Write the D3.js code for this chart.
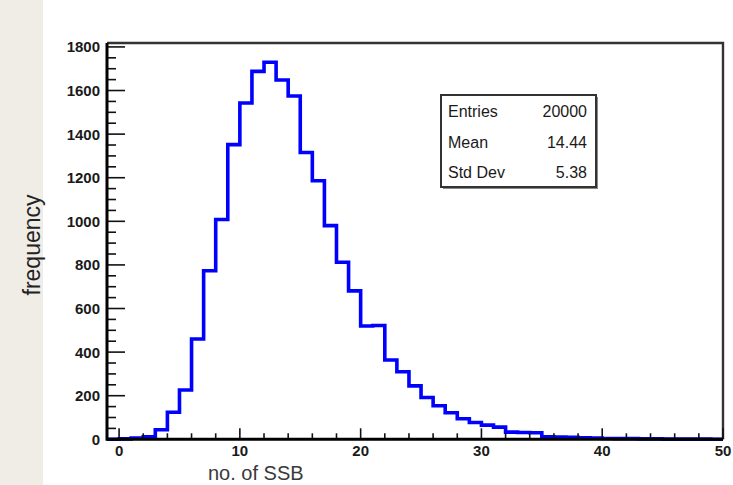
<!DOCTYPE html>
<html><head><meta charset="utf-8">
<script src="https://cdn.jsdelivr.net/npm/d3@7"></script>
<style>body{margin:0;background:#fff;} svg{display:block}</style>
</head><body><svg id="c" width="733" height="485"></svg>
<script>
// ---- data ----
const binLowEdges = [-1,0,1,2,3,4,5,6,7,8,9,10,11,12,13,14,15,16,17,18,19,20,21,22,23,24,25,26,27,28,29,30,31,32,33,34,35,36,37,38,39,40,41,42,43,44,45,46,47,48,49];
const binCounts   = [0,2,6,12,44,124,226,460,773,1008,1352,1543,1688,1730,1648,1575,1316,1186,980,812,681,520,522,364,310,245,192,154,122,94,77,65,56,33,31,30,12,10,9,7,6,4,3,3,2,2,1,1,1,1,0];
const binWidth = 1;
const xTicksMajor = [0,10,20,30,40,50];
const yTicksMajor = [0,200,400,600,800,1000,1200,1400,1600,1800];
const statsLabels = ["Entries","Mean","Std Dev"];
const statsValues = ["20000","14.44","5.38"];
const xTitle = "no. of SSB";
const yTitle = "frequency";

// ---- layout ----
const svg = d3.select("#c");
const L = 107, R = 723, T = 43, B = 439.3;
const x = d3.scaleLinear().domain([-1, 50]).range([L, R]);
const y = d3.scaleLinear().domain([0, 1818]).range([B, T]);
const FONT = "Liberation Sans, Arial, sans-serif";

svg.append("rect").attr("x",0).attr("y",0).attr("width",733).attr("height",485).attr("fill","#fff");
svg.append("rect").attr("x",0).attr("y",0).attr("width",43).attr("height",485).attr("fill","#f0ede7");

// frame top/right
svg.append("path").attr("d",`M${L},${T}H${R}V${B}`).attr("fill","none").attr("stroke","#333").attr("stroke-width",2.4);

// histogram
const pts = binLowEdges.map((e,i)=>[e, binCounts[i]]);
pts.push([binLowEdges[binLowEdges.length-1]+binWidth, binCounts[binCounts.length-1]]);
const line = d3.line().x(d=>x(d[0])).y(d=>y(d[1])).curve(d3.curveStepAfter);
svg.append("path").attr("d", line(pts)).attr("fill","none").attr("stroke","#0000ff").attr("stroke-width",3.6).attr("stroke-linejoin","miter");

// y axis
const yMinor = d3.range(0, 1818, 50);
const yg = svg.append("g");
yg.selectAll("line.mn").data(yMinor).join("line")
  .attr("x1",L).attr("x2",d=> d%200===0 ? L+18 : L+9)
  .attr("y1",d=>y(d)).attr("y2",d=>y(d)).attr("stroke","#111").attr("stroke-width",1.6);
yg.selectAll("text").data(yTicksMajor).join("text")
  .attr("x",100).attr("y",d=>y(d)).attr("dy","0.36em").attr("text-anchor","end")
  .attr("font-family",FONT).attr("font-weight","bold").attr("font-size",15)
  .attr("fill","#1a1a1a").text(d=>d);

// x axis
const xMinor = d3.range(0, 51, 2);
const xg = svg.append("g");
xg.selectAll("line").data(xMinor).join("line")
  .attr("x1",d=>x(d)).attr("x2",d=>x(d)).attr("y1",B).attr("y2",d=> d%10===0 ? B-11 : B-6)
  .attr("stroke","#111").attr("stroke-width",1.6);
xg.selectAll("text").data(xTicksMajor).join("text")
  .attr("x",d=>x(d)).attr("y",456).attr("text-anchor","middle")
  .attr("font-family",FONT).attr("font-weight","bold").attr("font-size",15)
  .attr("fill","#1a1a1a").text(d=>d);

// axis lines
svg.append("path").attr("d",`M${L},${T}V${B}H${R}`).attr("fill","none").attr("stroke","#000").attr("stroke-width",3);

// titles
svg.append("text").attr("x",208).attr("y",480).attr("font-family",FONT)
  .attr("font-size",20).attr("fill","#3a3a3a").text(xTitle);
svg.append("text").attr("transform","translate(40,245) rotate(-90)").attr("text-anchor","middle")
  .attr("font-family",FONT).attr("font-size",23).attr("fill","#222").text(yTitle);

// stats box
svg.append("rect").attr("x",443).attr("y",97).attr("width",155).attr("height",92).attr("fill","#888");
svg.append("rect").attr("x",441).attr("y",95).attr("width",155).attr("height",92).attr("fill","#fff").attr("stroke","#333").attr("stroke-width",2);
const rowsY = [117, 148, 178];
svg.selectAll("text.sl").data(statsLabels).join("text").attr("class","sl")
  .attr("x",448).attr("y",(d,i)=>rowsY[i]).attr("font-family",FONT)
  .attr("font-size",16).attr("fill","#1a1a1a").text(d=>d);
svg.selectAll("text.sv").data(statsValues).join("text").attr("class","sv")
  .attr("x",587).attr("y",(d,i)=>rowsY[i]).attr("text-anchor","end").attr("font-family",FONT)
  .attr("font-size",16).attr("fill","#1a1a1a").text(d=>d);
</script></body></html>
